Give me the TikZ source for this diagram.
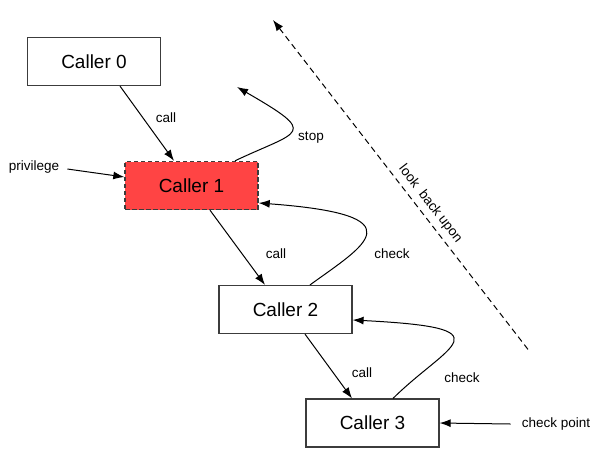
\documentclass[tikz,border=0pt]{standalone}
\usepackage{fontspec}
\setmainfont{Liberation Sans}
\usetikzlibrary{arrows.meta,positioning}
\definecolor{hotred}{RGB}{255,68,68}
\definecolor{boxgray}{RGB}{60,60,60}

\begin{document}
\begin{tikzpicture}[
    x=1pt, y=-1pt,
    >={Latex[length=11pt,width=8pt]},
    callerbox/.style={
        draw=boxgray,
        line width=1.2pt,
        minimum width=133pt,
        minimum height=48pt,
        inner sep=0pt,
        font=\fontsize{19}{22}\selectfont
    },
    hotbox/.style={callerbox, fill=hotred, line width=1.4pt, dash pattern=on 4.5pt off 2.5pt},
    lbl/.style={font=\fontsize{13.5}{16}\selectfont, inner sep=2pt},
    line/.style={->, line width=1pt}
]
    \useasboundingbox (0,0) rectangle (601,448);

    \node[callerbox] (c0) at (94,61.5) {Caller 0};
    \node[hotbox] (c1) at (191.5,185.5) {Caller 1};
    \node[callerbox] (c2) at (285.5,309.5) {Caller 2};
    \node[callerbox] (c3) at (372.5,423) {Caller 3};

    \node[lbl] (privlbl) at (34,167) {privilege};
    \node[lbl] (stoplbl) at (311,138) {stop};
    \node[lbl] (check21) at (392,254) {check};
    \node[lbl] (check32) at (462,378) {check};
    \node[lbl] (cplbl) at (556,424) {check point};
    \coordinate (stoptip) at (237,87);
    \coordinate (lbtop) at (273,20);
    \coordinate (lbbot) at (530,352);

    % calls down the chain
    \draw[line] ([xshift=26pt]c0.south) -- node[lbl, xshift=19pt, yshift=5.5pt] (call01) {call} ([xshift=-17.5pt]c1.north);
    \draw[line] ([xshift=18.5pt]c1.south) -- node[lbl, xshift=38.5pt, yshift=-6.5pt] (call12) {call} ([xshift=-20.5pt]c2.north);
    \draw[line] ([xshift=19.5pt]c2.south) -- node[lbl, xshift=33.5pt, yshift=-6pt] (call23) {call} ([xshift=-20.5pt]c3.north);

    % checks back up
    \draw[line] ([xshift=24.5pt]c2.north) .. controls (365,245) and (420,215) .. ([yshift=-17.5pt]c1.east);
    \draw[line] ([xshift=20.5pt]c3.north) .. controls (448,344) and (510,328) .. ([yshift=-10.5pt]c2.east);
    \draw[line] ([xshift=43.5pt]c1.north) .. controls (300,130) and (320,135) .. (stoptip);

    \draw[line] ([xshift=6pt,yshift=-2pt]privlbl.east) -- ([yshift=8.5pt]c1.west);
    \draw[line] ([xshift=-9pt]cplbl.west) -- (c3.east);

    \draw[line, <-, dash pattern=on 6pt off 4pt] (lbtop) -- node[lbl, sloped, above=3pt, pos=0.576] (lookback) {look\ \ back upon} (lbbot);
\end{tikzpicture}
\end{document}
